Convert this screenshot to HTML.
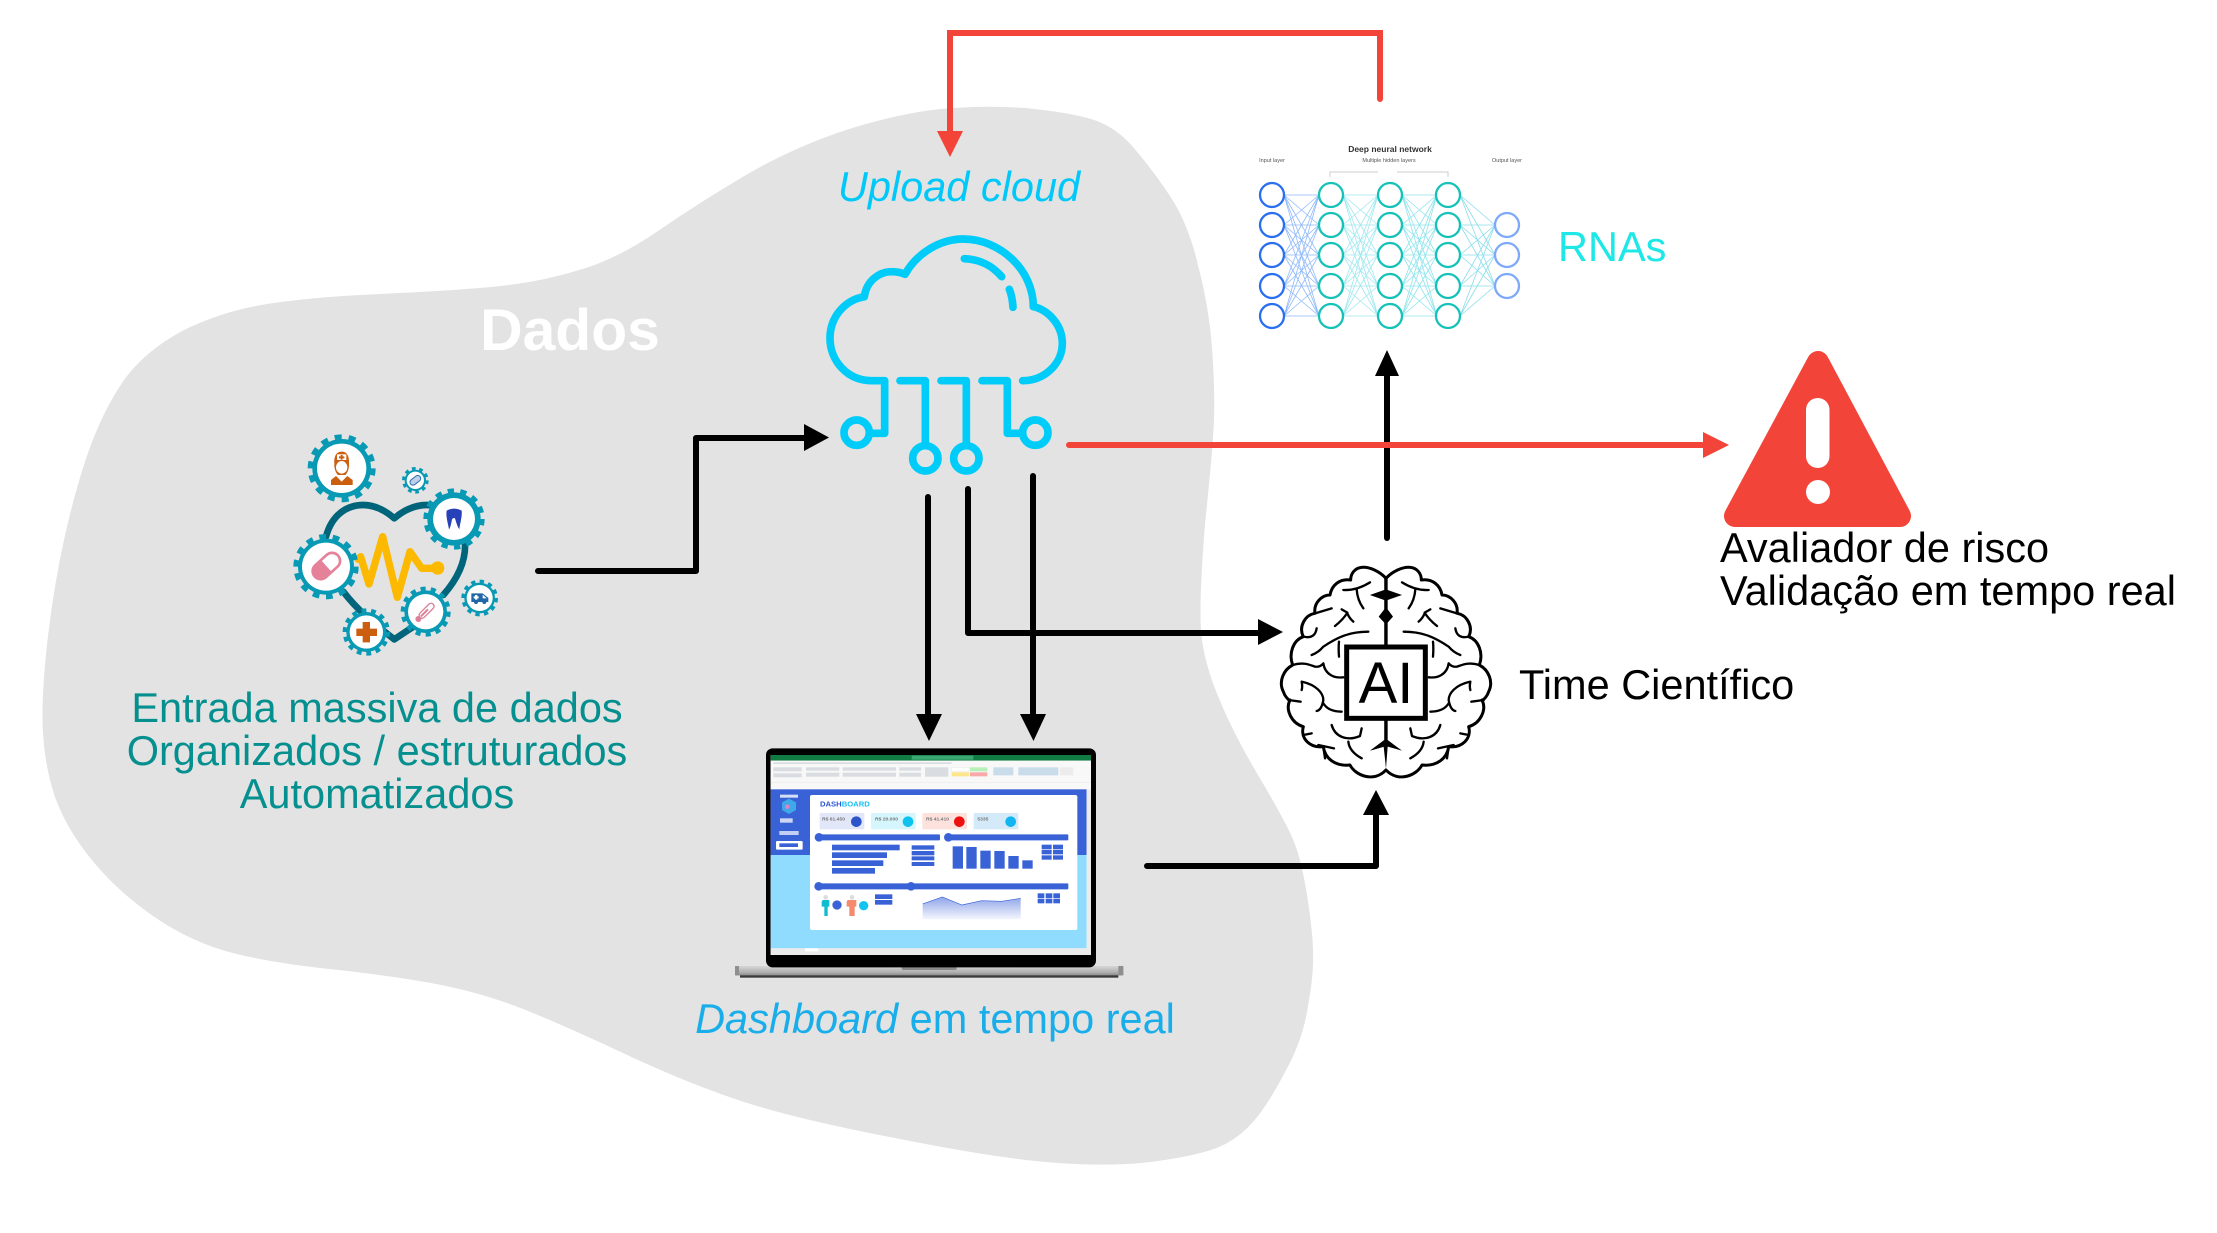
<!DOCTYPE html>
<html><head><meta charset="utf-8"><style>
html,body{margin:0;padding:0;background:#fff;width:2217px;height:1233px;overflow:hidden}
svg{display:block}
text{font-family:"Liberation Sans",sans-serif}
</style></head><body>
<svg width="2217" height="1233" viewBox="0 0 2217 1233" xmlns="http://www.w3.org/2000/svg">
<defs>
<linearGradient id="base" x1="0" y1="0" x2="0" y2="1"><stop offset="0" stop-color="#d6d6d6"/><stop offset=".7" stop-color="#aeaeae"/><stop offset="1" stop-color="#8a8a8a"/></linearGradient>
<linearGradient id="area" x1="0" y1="0" x2="0" y2="1"><stop offset="0" stop-color="#8fa5e8"/><stop offset="1" stop-color="#f4f6fe"/></linearGradient>
<g id="hb" fill="none" stroke="#000" stroke-width="9" stroke-linejoin="round" stroke-linecap="round">
<path fill="#fff" d="M378,700V85C360,65 330,50 305,52C285,54 272,70 272,90C240,85 215,105 210,135C185,135 160,160 165,190C135,195 115,230 130,260C100,270 85,310 98,345C70,360 55,395 70,425C75,440 85,450 90,450C75,480 95,520 130,530C120,565 150,595 190,590C195,625 225,650 270,645C285,675 340,700 378,660Z" stroke="none"/>
<path d="M378,85C360,65 330,50 305,52C285,54 272,70 272,90C240,85 215,105 210,135C185,135 160,160 165,190C135,195 115,230 130,260C100,270 85,310 98,345C70,360 55,395 70,425C75,440 85,450 90,450C75,480 95,520 130,530C120,565 150,595 190,590C195,625 225,650 270,645C285,675 340,700 378,660"/>
<path stroke-width="7" d="M250,120Q290,122 330,97M290,118Q292,150 310,175M225,228Q250,208 262,188L245,178M262,190Q268,205 280,215M325,245C270,245 235,260 190,290Q175,308 155,315M237,275Q235,295 237,320M130,260Q165,268 170,235M165,190L215,175M98,345C130,335 150,345 165,350Q180,352 190,340C195,375 225,385 250,382M125,395Q128,410 125,420M125,395C170,405 190,430 190,450Q185,480 170,483M190,460Q205,485 245,485M85,450L122,455M215,525C225,560 260,575 300,558L305,535M265,575Q268,605 305,625M130,555L155,550M175,585L222,595M195,625L190,590"/>
<path fill="#000" stroke="none" d="M373,85L383,85L383,120L425,135L383,150L383,178L400,200L383,218L383,290L373,290L373,218L357,200L373,178L373,150L330,135L373,120ZM373,505L383,505L383,570L425,602L385,590L378,655L373,590L330,602L373,570Z"/>
</g>
<g id="nn1"><path d="M0,195L35,195M0,195L35,225M0,195L35,255M0,195L35,286M0,195L35,316M0,225L35,195M0,225L35,225M0,225L35,255M0,225L35,286M0,225L35,316M0,255L35,195M0,255L35,225M0,255L35,255M0,255L35,286M0,255L35,316M0,286L35,195M0,286L35,225M0,286L35,255M0,286L35,286M0,286L35,316M0,316L35,195M0,316L35,225M0,316L35,255M0,316L35,286M0,316L35,316" fill="none" stroke-width=".8"/></g>
</defs>

<!-- blob -->
<path fill="#e3e3e3" d="M43,733Q41,700 47,645Q53,590 64,540Q75,490 88.500,451.500Q102,413 122,383Q142,353 182,331Q222,311 267,304Q312,297 379,294Q446,291 491,287Q536,283 576,271Q616,260 658,231Q700,202 746,175Q792,148 846,130Q900,113 941,109Q983,105 1025,108Q1067,112 1091,119Q1115,126 1133,147Q1152,169 1170,196Q1188,223 1198,265Q1209,307 1212,348Q1215,390 1214,419Q1213,448 1205,524Q1199,600 1201,630Q1203,660 1218,696Q1233,733 1258,775Q1283,817 1292,837Q1301,857 1307,895Q1313,933 1313,953Q1314,973 1308,1006Q1303,1040 1285,1072Q1268,1105 1253,1122Q1238,1139 1219,1147Q1200,1155 1158,1161Q1117,1167 1058,1163Q1000,1159 900,1139Q800,1120 744,1102Q689,1084 625,1054Q561,1024 523,1009Q485,994 446,986Q408,978 339,970Q270,963 229,952Q189,941 153,916Q117,891 91,859Q66,828 55,797Q45,767 43,733Z"/>

<text x="570" y="350" font-size="58.800" font-weight="bold" fill="#fff" text-anchor="middle">Dados</text>

<!-- heart icon group -->
<g transform="translate(250,400) scale(.33333)">
<path d="M228,410C245,345 290,315 340,315C380,315 410,335 433,355C455,335 490,315 530,315C590,315 640,370 645,430C648,490 615,545 580,585M280,575C330,640 385,680 433,718L490,680" fill="none" stroke="#00647a" stroke-width="20" stroke-linecap="round" stroke-linejoin="round"/>
<path d="M325,478L332,470L357,552L398,410L442,592L480,455L515,505L560,505" fill="none" stroke="#fdb900" stroke-width="22" stroke-linecap="round" stroke-linejoin="round"/>
<circle cx="563" cy="504" r="20" fill="#fdb900"/>
<g fill="#0899b4" stroke="#0899b4">
<circle cx="275" cy="205" r="88" stroke="none"/><circle cx="275" cy="205" r="93" fill="none" stroke-width="18" pathLength="28" stroke-dasharray="1 1"/>
<circle cx="496" cy="241" r="32" stroke="none"/><circle cx="496" cy="241" r="35" fill="none" stroke-width="10" pathLength="20" stroke-dasharray="1 1"/>
<circle cx="612" cy="357" r="80" stroke="none"/><circle cx="612" cy="357" r="84" fill="none" stroke-width="16" pathLength="28" stroke-dasharray="1 1"/>
<circle cx="228" cy="500" r="84" stroke="none"/><circle cx="228" cy="500" r="90" fill="none" stroke-width="16" pathLength="28" stroke-dasharray="1 1"/>
<circle cx="689" cy="594" r="46" stroke="none"/><circle cx="689" cy="594" r="50" fill="none" stroke-width="10" pathLength="24" stroke-dasharray="1 1"/>
<circle cx="527" cy="635" r="64" stroke="none"/><circle cx="527" cy="635" r="69" fill="none" stroke-width="12" pathLength="28" stroke-dasharray="1 1"/>
<circle cx="349" cy="696" r="60" stroke="none"/><circle cx="349" cy="696" r="65" fill="none" stroke-width="12" pathLength="28" stroke-dasharray="1 1"/>
</g>
<g fill="#fff">
<circle cx="275" cy="205" r="74"/><circle cx="496" cy="241" r="26"/><circle cx="612" cy="357" r="63"/><circle cx="228" cy="500" r="72"/><circle cx="689" cy="594" r="39"/><circle cx="527" cy="635" r="53"/><circle cx="349" cy="696" r="50"/>
</g>
<!-- nurse -->
<path d="M253,190C252,170 258,155 275,155C292,155 298,170 297,190C298,205 293,218 286,225L264,225C257,218 252,205 253,190Z" fill="#cc5f0f"/>
<ellipse cx="275" cy="202" rx="17" ry="19" fill="#fff"/>
<path d="M261,163H289V180H261Z" fill="#fff"/><path d="M272,165H278V169H283V175H278V179H272V175H267V169H272Z" fill="#cc5f0f"/>
<path d="M243,255V240L258,228L275,245L292,228L308,240V255Z" fill="#cc5f0f"/>
<!-- bandage -->
<rect x="478" y="232" width="36" height="18" rx="9" fill="#bcd0ea" stroke="#2f6db0" stroke-width="3" transform="rotate(-38 496 241)"/>
<!-- tooth -->
<path d="M590,332Q612,320 635,332C637,350 630,370 628,388Q622,380 615,355Q610,352 606,358C603,375 600,385 597,388C594,370 587,350 590,332Z" fill="#2741b8"/>
<!-- pill -->
<g transform="rotate(-42 229 498)"><rect x="182" y="474" width="94" height="48" rx="24" fill="#fff" stroke="#e5829a" stroke-width="8"/><path d="M206,474H229V522H206A24,24 0 0 1 206,474Z" fill="#e5829a"/></g>
<!-- ambulance -->
<path d="M664,580H698L715,594V606H664Z" fill="#1f67a8"/><circle cx="678" cy="606" r="6" fill="#1f67a8"/><circle cx="703" cy="606" r="6" fill="#1f67a8"/><path d="M675,585H682V589H686V595H682V599H675V595H671V589H675Z" fill="#fff"/><path d="M698,584L710,595H698Z" fill="#fff"/>
<!-- thermometer -->
<g transform="rotate(45 527 635)"><rect x="518" y="603" width="18" height="56" rx="9" fill="#fff" stroke="#dd8199" stroke-width="4"/><rect x="524" y="625" width="6" height="30" fill="#dd8199"/><circle cx="527" cy="666" r="9" fill="#dd8199"/></g>
<!-- cross -->
<path d="M338,666H360V686H381V708H360V727H338V708H319V686H338Z" fill="#cc5f0f"/>
</g>

<text font-size="41.500" fill="#05908f" text-anchor="middle"><tspan x="377" y="722">Entrada massiva de dados</tspan><tspan x="377" y="765">Organizados / estruturados</tspan><tspan x="377" y="808">Automatizados</tspan></text>

<text x="959" y="201" font-size="41.500" font-style="italic" fill="#00c8f8" text-anchor="middle">Upload cloud</text>

<!-- cloud -->
<g transform="translate(800,220) scale(.33333)" fill="none" stroke="#00ccf9" stroke-width="23" stroke-linecap="round" stroke-linejoin="round">
<path d="M254,482H215C140,482 90,420 90,355C90,290 135,240 193,230C200,180 240,155 275,155C290,155 305,158 315,163C350,100 420,57 490,57C600,57 700,150 700,260C745,270 787,315 787,370C787,430 735,482 668,482"/>
<path d="M254,482V640H215M300,482H376V670M423,482H499V670M546,482H622V640H660M493,116C540,118 575,135 605,170M628,208C635,225 638,245 639,262"/>
<circle cx="170" cy="638" r="38"/><circle cx="376" cy="715" r="38"/><circle cx="499" cy="715" r="38"/><circle cx="706" cy="638" r="38"/>
</g>

<!-- laptop -->
<g transform="translate(720,730) scale(.33333)">
<rect x="60" y="735" width="1135" height="8" fill="#3a3a3a"/>
<rect x="45" y="708" width="1165" height="28" rx="3" fill="url(#base)"/>
<rect x="45" y="708" width="12" height="28" fill="#8f8f8f"/><rect x="1195" y="708" width="15" height="28" fill="#8f8f8f"/>
<rect x="545" y="708" width="165" height="12" rx="5" fill="#8a8a8a"/>
<rect x="138" y="55" width="990" height="657" rx="20" fill="#000"/>
<rect x="152" y="75" width="961" height="600" fill="#fff"/>
<rect x="152" y="75" width="961" height="17" fill="#107c41"/>
<rect x="575" y="77" width="185" height="12" fill="#3aa772"/>
<rect x="152" y="92" width="961" height="86" fill="#f8f8f8"/>
<rect x="152" y="158" width="961" height="1" fill="#ddd"/>
<g fill="#d9dde1"><rect x="160" y="97" width="535" height="5"/><rect x="160" y="112" width="85" height="12"/><rect x="160" y="130" width="85" height="12"/><rect x="258" y="112" width="100" height="10"/><rect x="258" y="128" width="100" height="12"/><rect x="368" y="112" width="160" height="10"/><rect x="368" y="128" width="160" height="12"/><rect x="538" y="112" width="65" height="10"/><rect x="538" y="128" width="65" height="12"/><rect x="615" y="112" width="70" height="28"/></g>
<rect x="695" y="112" width="52" height="12" fill="#fff" stroke="#ddd"/><rect x="750" y="112" width="52" height="12" fill="#b9efb9"/><rect x="695" y="127" width="52" height="12" fill="#fde68a"/><rect x="750" y="127" width="52" height="12" fill="#f8a9a9"/>
<g fill="#c9dcea"><rect x="820" y="112" width="60" height="24"/><rect x="895" y="112" width="120" height="24"/><rect x="1020" y="112" width="40" height="24" fill="#ececec"/></g>
<rect x="152" y="178" width="948" height="197" fill="#3a62d7"/>
<rect x="152" y="375" width="948" height="280" fill="#8fdcff"/>
<rect x="1100" y="178" width="13" height="477" fill="#ececec"/>
<rect x="152" y="655" width="961" height="20" fill="#ebebeb"/>
<rect x="255" y="655" width="40" height="9" fill="#fff"/>
<rect x="180" y="194" width="54" height="9" fill="#fff" opacity=".8"/>
<path d="M207,206L228,217V240L207,252L186,240V217Z" fill="#3fa8e8"/><circle cx="202" cy="230" r="7" fill="#e080c8"/>
<rect x="168" y="333" width="80" height="26" rx="4" fill="#fff"/><rect x="178" y="340" width="56" height="11" fill="#3a62d7"/>
<rect x="180" y="265" width="38" height="13" fill="#fff" opacity=".75"/><rect x="178" y="303" width="58" height="12" fill="#fff" opacity=".7"/>
<rect x="270" y="195" width="802" height="405" rx="6" fill="#fff"/>
<text x="300" y="230" font-size="23" font-weight="bold" fill="#2b55d0">DASH<tspan fill="#19bdf0">BOARD</tspan></text>
<rect x="299" y="249" width="134" height="49" rx="4" fill="#e2e6f9"/><circle cx="409" cy="275" r="16" fill="#2d55c9"/>
<rect x="453" y="249" width="134" height="49" rx="4" fill="#d4f6fc"/><circle cx="564" cy="275" r="16" fill="#10c2ef"/>
<rect x="607" y="249" width="134" height="49" rx="4" fill="#fde1dc"/><circle cx="718" cy="275" r="16" fill="#ee0f0f"/>
<rect x="761" y="249" width="134" height="49" rx="4" fill="#d4eaf8"/><circle cx="872" cy="275" r="16" fill="#12b5f0"/>
<g font-size="15" font-weight="bold" fill="#777"><text x="306" y="272">R$ 61.450</text><text x="465" y="272">R$ 20.000</text><text x="618" y="272">R$ 41.410</text><text x="772" y="272">5335</text></g>
<g fill="#3a62d7">
<rect x="295" y="313" width="365" height="18" rx="3"/><circle cx="297" cy="322" r="13"/>
<rect x="685" y="313" width="360" height="18" rx="3"/><circle cx="685" cy="322" r="13"/>
<rect x="295" y="460" width="750" height="18" rx="3"/><circle cx="296" cy="469" r="13"/><circle cx="573" cy="469" r="13"/>
<rect x="336" y="344" width="203" height="17"/><rect x="336" y="367" width="165" height="17"/><rect x="336" y="391" width="154" height="17"/><rect x="336" y="414" width="129" height="17"/>
<rect x="575" y="346" width="68" height="13"/><rect x="575" y="363" width="68" height="13"/><rect x="575" y="379" width="68" height="12"/><rect x="575" y="396" width="68" height="12"/>
<rect x="698" y="349" width="31" height="67"/><rect x="739" y="351" width="31" height="65"/><rect x="781" y="362" width="31" height="54"/><rect x="823" y="363" width="31" height="53"/><rect x="865" y="378" width="31" height="38"/><rect x="907" y="391" width="31" height="25"/>
<rect x="965" y="344" width="30" height="14"/><rect x="999" y="344" width="30" height="14"/><rect x="965" y="360" width="30" height="13"/><rect x="999" y="360" width="30" height="13"/><rect x="965" y="376" width="30" height="13"/><rect x="999" y="376" width="30" height="13"/>
<circle cx="351" cy="525" r="14"/>
<rect x="465" y="493" width="52" height="14"/><rect x="465" y="510" width="52" height="14"/>
<rect x="953" y="490" width="20" height="14"/><rect x="977" y="490" width="20" height="14"/><rect x="1000" y="490" width="20" height="14"/><rect x="953" y="506" width="20" height="14"/><rect x="977" y="506" width="20" height="14"/><rect x="1000" y="506" width="20" height="14"/>
</g>
<circle cx="431" cy="527" r="14" fill="#12c4f0"/>
<path d="M308,510H328V530H323V558H313V530H305V515Z" fill="#10bccf"/><circle cx="317" cy="502" r="7" fill="#ddd"/>
<path d="M383,510H409V530H404V558H388V530H380V515Z" fill="#f48a6e"/><circle cx="396" cy="502" r="7" fill="#ddd"/>
<path d="M608,522L667,501L726,525L785,512L844,514L902,505V568H608Z" fill="url(#area)"/>
<path d="M608,522L667,501L726,525L785,512L844,514L902,505" fill="none" stroke="#3a62d7" stroke-width="2"/>
</g>
<text x="935" y="1033" font-size="41.500" fill="#19ade9" text-anchor="middle"><tspan font-style="italic">Dashboard</tspan> em tempo real</text>

<!-- NN -->
<g>
<text x="1390" y="152" font-size="8.500" font-weight="bold" fill="#333" text-anchor="middle">Deep neural network</text>
<g font-size="5.500" fill="#555"><text x="1272" y="162" text-anchor="middle">Input layer</text><text x="1389" y="162" text-anchor="middle">Multiple hidden layers</text><text x="1507" y="162" text-anchor="middle">Output layer</text></g>
<path d="M1330,177V172H1378M1397,172H1448V177" fill="none" stroke="#ccc" stroke-width="1"/>
<use href="#nn1" x="1284" stroke="#8fb9fa"/>
<use href="#nn1" x="1343" stroke="#9fe8f0"/>
<use href="#nn1" x="1402" stroke="#8fe4ec"/>
<path d="M1460,195L1495,225M1460,195L1495,255M1460,195L1495,286M1460,225L1495,225M1460,225L1495,255M1460,225L1495,286M1460,255L1495,225M1460,255L1495,255M1460,255L1495,286M1460,286L1495,225M1460,286L1495,255M1460,286L1495,286M1460,316L1495,225M1460,316L1495,255M1460,316L1495,286" fill="none" stroke="#8adcea" stroke-width=".8"/>
<g fill="#fff" stroke-width="2.300">
<g stroke="#2a6ff0"><circle cx="1272" cy="195" r="12"/><circle cx="1272" cy="225" r="12"/><circle cx="1272" cy="255" r="12"/><circle cx="1272" cy="286" r="12"/><circle cx="1272" cy="316" r="12"/></g>
<g stroke="#16c2b8"><circle cx="1331" cy="195" r="12"/><circle cx="1331" cy="225" r="12"/><circle cx="1331" cy="255" r="12"/><circle cx="1331" cy="286" r="12"/><circle cx="1331" cy="316" r="12"/>
<circle cx="1390" cy="195" r="12"/><circle cx="1390" cy="225" r="12"/><circle cx="1390" cy="255" r="12"/><circle cx="1390" cy="286" r="12"/><circle cx="1390" cy="316" r="12"/>
<circle cx="1448" cy="195" r="12"/><circle cx="1448" cy="225" r="12"/><circle cx="1448" cy="255" r="12"/><circle cx="1448" cy="286" r="12"/><circle cx="1448" cy="316" r="12"/></g>
<g stroke="#7ea9fa"><circle cx="1507" cy="225" r="12"/><circle cx="1507" cy="255" r="12"/><circle cx="1507" cy="286" r="12"/></g>
</g>
</g>
<text x="1558" y="261" font-size="41.500" fill="#1de7e7">RNAs</text>

<!-- brain -->
<g transform="translate(1260,550) scale(.33333)">
<use href="#hb"/>
<use href="#hb" transform="translate(756,0) scale(-1,1)"/>
<rect x="260" y="291" width="236" height="214" fill="#fff" stroke="#000" stroke-width="15"/>
</g>
<text x="1386" y="703" font-size="58" fill="#000" text-anchor="middle">AI</text>
<text x="1519" y="699" font-size="41.500" fill="#000">Time Científico</text>

<!-- warning -->
<path d="M1818,362L1900,516H1735Z" fill="#f24438" stroke="#f24438" stroke-width="22" stroke-linejoin="round"/>
<rect x="1806" y="398" width="23.500" height="70" rx="11.700" fill="#fff"/>
<circle cx="1818" cy="492" r="12" fill="#fff"/>
<text font-size="41.500" fill="#000"><tspan x="1720" y="562">Avaliador de risco</tspan><tspan x="1720" y="605">Validação em tempo real</tspan></text>

<!-- connectors -->
<g fill="none" stroke="#000" stroke-width="6" stroke-linecap="round" stroke-linejoin="round">
<path d="M538,571H696V438H806"/>
<path d="M928,497V718"/>
<path d="M1033,476V718"/>
<path d="M968,489V633H1260"/>
<path d="M1147,866H1376V812"/>
<path d="M1387,538V374"/>
</g>
<g fill="#000">
<path d="M804,424L829,437.500L804,451Z"/>
<path d="M916,714L942,714L929,741Z"/>
<path d="M1020,714L1046,714L1033.500,741Z"/>
<path d="M1258,619L1283,632L1258,645Z"/>
<path d="M1363,815L1389,815L1376,790Z"/>
<path d="M1375,376L1399,376L1387,350Z"/>
</g>
<g fill="none" stroke="#f24438" stroke-width="6" stroke-linecap="round" stroke-linejoin="miter">
<path d="M1069,445H1705"/>
<path d="M1380,99V33H950V135"/>
</g>
<g fill="#f24438">
<path d="M1703,432L1729,445L1703,458Z"/>
<path d="M937,131L963,131L950,157Z"/>
</g>
</svg>
</body></html>
